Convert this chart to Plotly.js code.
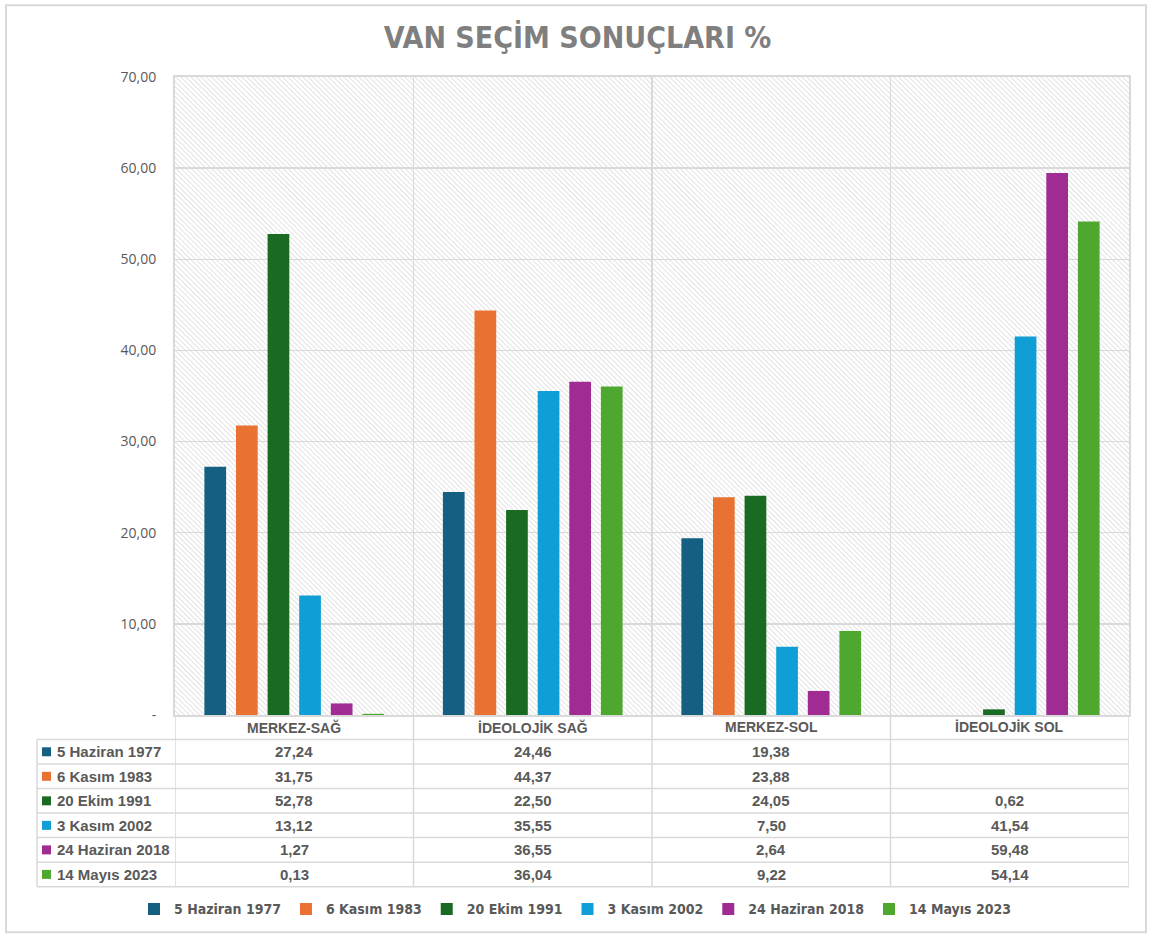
<!DOCTYPE html>
<html>
<head>
<meta charset="utf-8">
<script src="https://cdn.plot.ly/plotly-3.0.1.min.js"></script>
<style>
  html, body { margin: 0; padding: 0; background: #ffffff; }
  #chart { width: 1150px; height: 937px; }
</style>
</head>
<body>
<div id="chart"></div>
<script>
// ---------- DATA ----------
const categories = ['MERKEZ-SAĞ', 'İDEOLOJİK SAĞ', 'MERKEZ-SOL', 'İDEOLOJİK SOL'];
const seriesNames = ['5 Haziran 1977', '6 Kasım 1983', '20 Ekim 1991', '3 Kasım 2002', '24 Haziran 2018', '14 Mayıs 2023'];
const haziran1977 = [27.24, 24.46, 19.38, null];
const kasim1983   = [31.75, 44.37, 23.88, null];
const ekim1991    = [52.78, 22.50, 24.05, 0.62];
const kasim2002   = [13.12, 35.55, 7.50, 41.54];
const haziran2018 = [1.27, 36.55, 2.64, 59.48];
const mayis2023   = [0.13, 36.04, 9.22, 54.14];
const yTickVals   = [0, 10, 20, 30, 40, 50, 60, 70];

// ---------- STYLE ----------
const seriesValues = [haziran1977, kasim1983, ekim1991, kasim2002, haziran2018, mayis2023];
const colors = ['#156082', '#E97132', '#196B24', '#0F9ED5', '#A02B93', '#4EA72E'];
const gridColor = '#d9d9d9';
const textColor = '#595959';
const W = 1150, H = 937;
const M = { l: 175, r: 21, t: 77, b: 220 };
const PW = W - M.l - M.r, PH = H - M.t - M.b;
const plotBottom = H - M.b;
const rowH = 24.6;
const tableLeft = 37;
const condensed = 'Liberation Sans Narrow, Arial Narrow, DejaVu Sans Condensed, sans-serif';
const tableFont = 'Liberation Sans, Arial, sans-serif';

const px2x = px => (px - M.l) / PW;
const py2y = py => (plotBottom - py) / PH;
const fmt = v => (v === null || v === undefined) ? '' : v.toFixed(2).replace('.', ',');

const traces = seriesNames.map((name, i) => ({
  type: 'bar',
  name: name,
  x: categories,
  y: seriesValues[i],
  marker: { color: colors[i] },
  hoverinfo: 'skip'
}));

// hatch background
const hatchSvg = '<svg xmlns="http://www.w3.org/2000/svg" width="' + PW + '" height="' + PH + '" viewBox="0 0 ' + PW + ' ' + PH + '" preserveAspectRatio="none">' +
  '<defs><pattern id="h" width="3.6" height="3.6" patternUnits="userSpaceOnUse" patternTransform="rotate(-45)">' +
  '<rect width="3.6" height="3.6" fill="#ffffff"/><rect width="1" height="3.6" fill="#e2e2e2"/></pattern></defs>' +
  '<rect width="' + PW + '" height="' + PH + '" fill="url(#h)"/></svg>';

const shapes = [];
const annotations = [];
const tableBottom = plotBottom + rowH * (seriesNames.length + 1);

// outer chart border
shapes.push({ type: 'rect', xref: 'paper', yref: 'paper',
  x0: px2x(6), x1: px2x(1146), y0: py2y(5), y1: py2y(935),
  line: { color: gridColor, width: 2 }, fillcolor: 'rgba(0,0,0,0)', layer: 'below' });

// table horizontal lines
for (let r = 1; r <= seriesNames.length + 1; r++) {
  const y = py2y(plotBottom + r * rowH);
  shapes.push({ type: 'line', xref: 'paper', yref: 'paper', x0: px2x(tableLeft), x1: 1, y0: y, y1: y,
    line: { color: gridColor, width: 1.5 } });
}
// table left border
shapes.push({ type: 'line', xref: 'paper', yref: 'paper', x0: px2x(tableLeft), x1: px2x(tableLeft),
  y0: py2y(plotBottom + rowH), y1: py2y(tableBottom), line: { color: gridColor, width: 1.5 } });
// column boundaries
for (let c = 0; c <= categories.length; c++) {
  shapes.push({ type: 'line', xref: 'x', yref: 'paper', x0: c - 0.5, x1: c - 0.5,
    y0: 0, y1: py2y(tableBottom), line: { color: gridColor, width: 1.5 } });
}

// header labels
categories.forEach((cat, c) => {
  annotations.push({ xref: 'x', yref: 'paper', x: c, y: py2y(plotBottom + rowH / 2),
    text: '<b>' + cat + '</b>', showarrow: false, xanchor: 'center', yanchor: 'middle',
    font: { family: tableFont, size: 14, color: textColor } });
});

// rows
seriesNames.forEach((name, r) => {
  const cy = plotBottom + rowH * (r + 1) + rowH / 2;
  shapes.push({ type: 'rect', xref: 'paper', yref: 'paper',
    x0: px2x(42), x1: px2x(51), y0: py2y(cy - 4.5), y1: py2y(cy + 4.5),
    fillcolor: colors[r], line: { width: 0 } });
  annotations.push({ xref: 'paper', yref: 'paper', x: px2x(55), y: py2y(cy),
    text: '<b>' + name + '</b>', showarrow: false, xanchor: 'left', yanchor: 'middle',
    font: { family: tableFont, size: 15, color: textColor } });
  seriesValues[r].forEach((v, c) => {
    if (v === null) return;
    annotations.push({ xref: 'x', yref: 'paper', x: c, y: py2y(cy),
      text: '<b>' + fmt(v) + '</b>', showarrow: false, xanchor: 'center', yanchor: 'middle',
      font: { family: tableFont, size: 15, color: textColor } });
  });
});

const layout = {
  width: W, height: H,
  margin: M,
  paper_bgcolor: '#ffffff',
  plot_bgcolor: '#ffffff',
  barmode: 'group',
  bargap: 0.205,
  bargroupgap: 0.313,
  showlegend: true,
  title: {
    text: '<b>VAN SEÇİM SONUÇLARI %</b>',
    font: { family: condensed, size: 30, color: '#7f7f7f' },
    xref: 'paper', x: px2x(577.5), xanchor: 'center',
    yref: 'container', y: 1 - 37 / H, yanchor: 'middle'
  },
  xaxis: {
    type: 'category',
    range: [-0.5, categories.length - 0.5],
    showticklabels: false,
    ticks: '',
    showgrid: true,
    tickson: 'boundaries',
    gridcolor: gridColor,
    gridwidth: 1.5,
    showline: true,
    mirror: true,
    linecolor: gridColor,
    linewidth: 2,
    fixedrange: true
  },
  yaxis: {
    range: [0, 70],
    tickvals: yTickVals,
    ticktext: yTickVals.map(v => v === 0 ? '-' : fmt(v)),
    ticks: '',
    ticklabelstandoff: 14,
    tickfont: { family: 'Open Sans, Liberation Sans, sans-serif', size: 14, color: textColor },
    showgrid: true,
    gridcolor: gridColor,
    gridwidth: 1.5,
    zeroline: false,
    showline: true,
    mirror: true,
    linecolor: gridColor,
    linewidth: 2,
    fixedrange: true
  },
  legend: {
    orientation: 'h',
    x: px2x(575), xanchor: 'center',
    y: py2y(912), yanchor: 'middle',
    font: { family: condensed, size: 14, color: textColor, weight: 'bold' },
    itemclick: false, itemdoubleclick: false,
    traceorder: 'normal'
  },
  images: [{
    source: 'data:image/svg+xml;charset=utf-8,' + encodeURIComponent(hatchSvg),
    xref: 'paper', yref: 'paper', x: 0, y: 1, sizex: 1, sizey: 1,
    xanchor: 'left', yanchor: 'top', sizing: 'stretch', layer: 'below'
  }],
  shapes: shapes,
  annotations: annotations
};

Plotly.newPlot('chart', traces, layout, { displayModeBar: false, staticPlot: true });
</script>
</body>
</html>
